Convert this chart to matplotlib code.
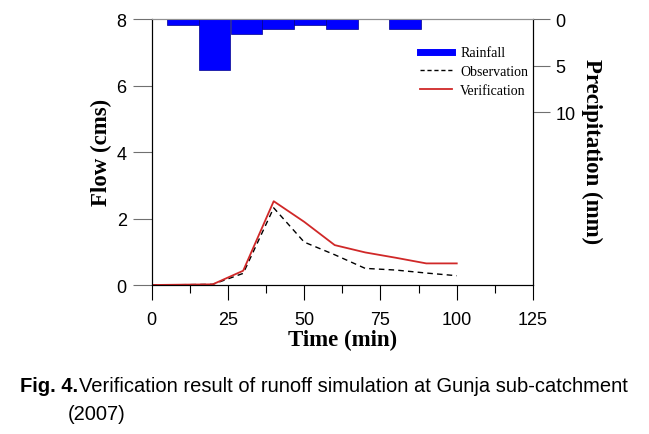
import matplotlib
matplotlib.use('Agg')
import matplotlib.pyplot as plt
from matplotlib.lines import Line2D

# Datos
time = [0, 10, 20, 30, 40, 50, 60, 70, 80, 90, 100]
observation = [0, 0.01, 0.02, 0.35, 2.32, 1.29, 0.91, 0.50, 0.45, 0.36, 0.28]
verification = [0, 0.01, 0.02, 0.43, 2.52, 1.90, 1.20, 0.98, 0.82, 0.65, 0.65]

rain_time = [10.2, 20.6, 31.1, 41.4, 51.8, 62.4, 83.0]
rain_mm = [0.6, 5.5, 1.6, 1.05, 0.6, 1.05, 1.05]
rain_width = 10.4

serif = 'Liberation Serif'
plt.rcParams['font.family'] = 'Liberation Sans'

fig = plt.figure(figsize=(6.49, 4.35), dpi=100)
ax = fig.add_axes([0.2337, 0.3425, 0.5876, 0.6115])
ax2 = ax.twinx()

ax.plot(time, observation, color='black', linestyle=(0, (4, 3)), linewidth=1.0)
ax.plot(time, verification, color='#d02828', linewidth=1.3)
ax2.bar(rain_time, rain_mm, width=rain_width, color='#0000ff', edgecolor='#00008b', linewidth=0.5)

ax.set_xlim(0, 125)
ax.set_ylim(0, 8)
ax.set_xticks([0, 25, 50, 75, 100, 125])
ax.set_xticks([12.5, 37.5, 62.5, 87.5, 112.5], minor=True)
ax.set_yticks([0, 2, 4, 6, 8])
ax2.set_ylim(28.6, 0)
ax2.set_yticks([0, 5, 10])

ax.tick_params(axis='x', direction='out', length=11, width=0.8, labelsize=13, pad=8)
ax.tick_params(axis='x', which='minor', direction='out', length=6, width=0.8)
ax.tick_params(axis='y', direction='out', length=14, width=0.8, labelsize=13, pad=4, color='#707070')
ax2.tick_params(axis='y', direction='out', length=12, width=0.8, labelsize=13, pad=4, color='#707070')

for a in (ax, ax2):
    for s in a.spines.values():
        s.set_linewidth(0.8)
ax.spines['top'].set_color('#909090')
ax2.spines['top'].set_color('#909090')

ax.set_xlabel('Time (min)', fontfamily=serif, fontweight='bold', fontsize=16.5, labelpad=0)
ax.set_ylabel('Flow (cms)', fontfamily=serif, fontweight='bold', fontsize=16.5)
ax2.set_ylabel('Precipitation (mm)', fontfamily=serif, fontweight='bold', fontsize=16.5,
               rotation=270)
ax.yaxis.set_label_coords(-0.104, 0.504)
ax2.yaxis.set_label_coords(1.182, 0.504)

handles = [Line2D([], [], color='#0000ff', linewidth=5),
           Line2D([], [], color='black', linestyle=(0, (3, 2)), linewidth=1.0),
           Line2D([], [], color='#d02828', linewidth=1.3)]
leg = ax.legend(handles, ['Rainfall', 'Observation', 'Verification'], frameon=False,
                loc='upper left', bbox_to_anchor=(0.703, 0.897), borderaxespad=0, borderpad=0,
                handlelength=2.3, handletextpad=0.6, labelspacing=0.42,
                prop={'family': serif, 'size': 10})

# Pie de figura
fig.text(0.031, 0.098, 'Fig. 4.', fontweight='bold', fontsize=14.5)
fig.text(0.122, 0.098, 'Verification result of runoff simulation at Gunja sub-catchment',
         fontsize=14.5)
fig.text(0.105, 0.034, '(2007)', fontsize=14.5)

fig.savefig('out.png', dpi=100)
